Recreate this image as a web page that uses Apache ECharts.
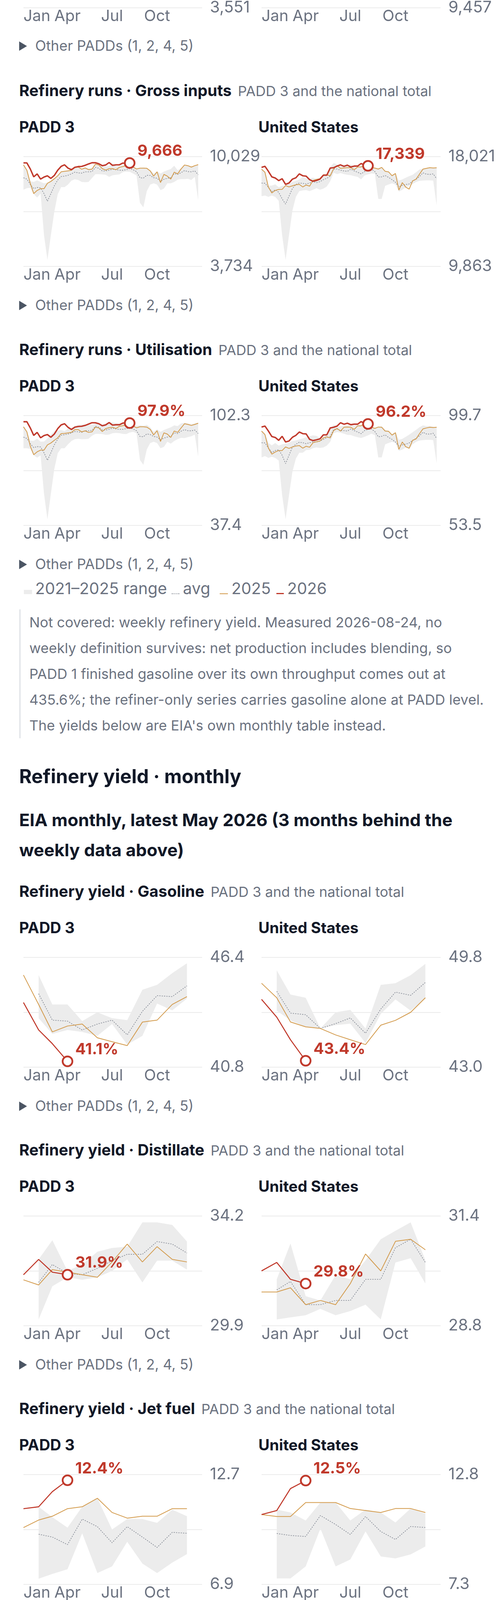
<!DOCTYPE html>
<html>
<head>
<meta charset="utf-8">
<title>Refinery runs and yields</title>
<script src="https://cdn.jsdelivr.net/npm/echarts@6/dist/echarts.min.js"></script>
<style>
body { margin: 0; background: #fff; font-family: Inter, "Noto Sans", sans-serif; }
#page { position: relative; width: 1279px; height: 6941px; overflow: hidden; }
.abs { position: absolute; white-space: nowrap; }
.hd { left: 49px; height: 60px; line-height: 60px; font-size: 40px; font-weight: 700; color: #111827; }
.hd .sub { font-size: 36px; font-weight: 400; color: #6b7280; margin-left: 6px; }
.pl { height: 60px; line-height: 60px; font-size: 39px; font-weight: 700; color: #111827; }
.other { left: 49px; height: 60px; line-height: 60px; font-size: 36.5px; color: #6b7280; }
.other i { display: inline-block; width: 0; height: 0; border-left: 20px solid #4b5563; border-top: 12px solid transparent; border-bottom: 12px solid transparent; vertical-align: middle; margin-right: 21px; margin-top: -4px; }
.legend { left: 61px; height: 60px; line-height: 60px; font-size: 41px; color: #6b7280; }
.legend .sw { display: inline-block; width: 21px; height: 11px; background: #ececec; margin-right: 8px; }
.legend .ln { display: inline-block; width: 21px; height: 0; margin: 0 9px 0 12px; }
.note { left: 49px; top: 1560px; border-left: 4px solid #e5e7eb; padding-left: 22px; font-size: 36px; line-height: 66px; color: #6b7280; }
.h2 { left: 49px; font-size: 49px; font-weight: 700; color: #111827; height: 70px; line-height: 70px; }
.lead { left: 49px; font-size: 44.5px; font-weight: 700; color: #111827; line-height: 77px; }
.para { left: 48px; top: 6259px; font-size: 36px; line-height: 62px; color: #5b6270; }
.para b { color: #474e5b; }
.chart { left: 0; width: 1279px; height: 400px; }
</style>
</head>
<body>
<div id="page"></div>
<script>
// x positions (day of year) and axis ticks
var weekDays = [0,7,14,21,28,35,42,49,56,63,70,77,84,91,98,105,112,119,126,133,140,147,154,161,168,175,182,189,196,203,210,217,224,231,238,245,252,259,266,273,280,287,294,301,308,315,322,329,336,343,350,357];
var monthDays = [0,31,59,90,120,151,181,212,243,273,304,334];
var tickDays = [0,90,181,273];
var tickNames = ['Jan','Apr','Jul','Oct'];

// ---- weekly: gross inputs, kb/d ----
var grossP3Hi = [9580,9280,8610,8580,8670,8580,8500,8540,8640,8790,8950,9170,9210,9250,9280,9430,9470,9340,9410,9360,9360,9620,9580,9460,9470,9490,9660,9490,9490,9550,9580,9550,9470,9360,9380,9400,9380,9250,9060,9170,9060,9170,9250,9320,9510,9250,9360,9560,9530,9460,9510,9580];
var grossP3Lo = [8130,8220,8240,7880,7680,7910,5520,4110,5520,6860,7870,8280,8280,8430,8650,8730,8690,8580,8560,8580,8800,9020,9020,9010,8990,8870,8960,8990,9010,9140,9170,9160,9060,8950,7380,7120,8050,8430,8500,8430,8110,8200,8500,8500,8580,8710,8740,8740,8760,8690,8870,7530];
var grossP3Avg = [8820,8740,8430,8200,8260,8240,7910,7470,7910,8350,8690,8890,8910,8960,9040,9140,9100,9080,9160,9160,9170,9410,9360,9210,9210,9250,9310,9280,9250,9250,9280,9340,9280,9170,8820,8800,8960,8950,8820,8790,8610,8730,8790,8820,9060,9010,9110,9230,9170,9160,9210,8990];
var grossP3Y25 = [9560,9250,8500,7910,8090,8190,8190,8500,8610,8760,8930,9160,9190,9210,9250,9410,9430,9310,9380,9280,9310,9600,9550,9340,9260,9340,9340,9280,9410,9460,9510,9530,9430,9320,9370,9370,9360,9210,8910,9160,8540,9010,8910,8740,9140,9040,9320,9550,9510,9430,9510,9570];
var grossP3Y26 = [9670,9670,9320,8870,9040,8740,8860,8930,8780,8950,9250,9470,9560,9370,9280,9420,9460,9470,9530,9610,9680,9680,9620,9510,9550,9690,9530,9560,9560,9660,9640,9666];

var grossUSHi = [17100,16890,15850,15870,15960,15750,15850,15870,15990,16140,16220,16330,16520,16410,16410,16450,16380,16410,16670,16740,17250,17540,17440,17320,17440,17350,17440,17300,17300,17350,17490,17390,17300,17200,17150,17250,16960,16910,16640,16770,16240,16330,16450,16570,16670,16860,17060,17120,17180,17220,17200,17220];
var grossUSLo = [15080,15130,15030,15130,15030,14740,12180,10350,12180,14020,15030,15460,15510,15540,15460,15560,15680,15560,15640,15800,16190,16820,16720,16800,16720,16670,16640,16570,16520,16330,16620,16700,16770,16740,14880,14880,15850,15950,16040,15950,15420,15560,15750,15850,15990,16140,16220,16240,16260,16260,16240,14400];
var grossUSAvg = [16060,16040,15750,15420,15560,15370,14880,14500,15080,15660,15950,16060,16040,15990,16060,16160,16090,16160,16310,16410,16570,17100,17100,17010,16960,16930,17090,16960,16860,16740,16910,17060,17100,16910,16510,16520,16620,16480,16310,16120,15770,15900,15950,15990,16220,16330,16540,16820,16720,16700,16740,16380];
var grossUSY25 = [17090,16860,15750,15320,15510,15580,15590,15870,15770,15850,15930,15960,15770,15910,15830,16250,16330,16380,16670,16670,16600,17120,17350,17150,17180,17200,17200,17050,17250,17250,17390,17320,17200,17170,17100,17220,16930,16890,16600,16770,15540,16090,15750,15610,16220,16350,16720,17090,17150,17200,17180,17190];
var grossUSY26 = [17220,17300,16930,16520,16430,16240,16380,15960,16060,16350,16450,16740,16600,16570,16310,16190,16250,16350,16640,16640,17170,17200,17320,17410,17300,17390,17250,17320,17320,17510,17390,17339];

// ---- weekly: utilisation, % ----
var utilP3Hi = [96.0,93.1,87.5,87.4,88.6,86.9,87.0,88.8,91.1,93.1,93.4,93.8,93.1,94.6,95.0,96.1,96.8,97.1,96.9,96.8,96.9,97.7,97.7,97.1,97.7,98.1,98.3,97.8,97.5,97.5,98.1,97.7,96.9,96.3,96.5,96.3,96.9,95.4,92.7,94.2,92.7,93.8,94.6,95.4,96.5,96.1,97.7,98.1,97.7,97.3,97.7,98.1];
var utilP3Lo = [83.0,83.0,82.6,78.8,77.5,78.8,56.1,41.0,56.1,70.7,80.0,83.0,83.0,85.3,87.3,88.4,88.6,88.3,88.4,88.6,90.4,91.5,91.5,91.4,90.9,91.1,91.9,92.1,91.9,91.5,91.4,92.3,92.7,91.9,76.1,73.2,82.3,86.1,86.9,86.1,83.0,83.8,86.9,85.7,87.3,88.4,89.2,89.0,89.6,90.1,91.1,78.0];
var utilP3Avg = [89.6,88.8,85.7,83.4,84.0,83.8,80.3,75.9,80.3,85.0,88.4,90.7,91.0,91.4,92.1,92.9,92.7,92.4,93.4,93.4,93.6,96.0,95.4,93.8,93.8,94.2,94.9,94.4,94.2,94.2,94.6,95.0,94.4,93.4,90.0,89.8,91.5,91.1,90.0,89.6,88.0,89.0,89.6,90.0,92.1,91.7,93.1,94.0,93.4,93.3,93.8,91.7];
var utilP3Y25 = [95.7,92.7,84.2,79.2,80.9,81.9,81.9,85.0,86.1,87.7,89.2,91.7,91.8,92.1,92.4,94.0,94.0,92.7,93.3,92.4,92.7,95.5,95.0,92.9,94.6,95.2,95.4,94.7,96.0,96.3,96.9,96.9,96.1,95.1,95.7,95.7,95.5,94.2,90.9,93.4,87.0,92.1,91.4,89.4,93.2,92.4,95.0,97.5,97.1,96.5,97.1,97.8];
var utilP3Y26 = [98.7,98.7,95.0,90.6,92.4,89.2,90.5,91.1,89.5,91.4,94.6,96.8,97.5,95.4,94.1,95.5,95.9,96.0,96.5,97.3,98.1,98.1,97.5,96.3,96.8,98.2,96.7,96.9,96.9,97.9,98.0,97.9];

var utilUSHi = [93.4,92.1,88.2,87.2,88.2,87.1,87.6,87.9,88.3,89.0,89.3,89.7,90.1,90.6,91.0,91.4,91.2,90.3,91.0,91.9,94.1,95.9,95.0,95.2,95.4,95.6,95.9,95.4,95.9,95.7,96.4,95.9,95.2,94.8,94.9,95.2,93.7,93.4,91.9,92.7,89.5,89.9,90.8,91.7,92.7,93.7,94.8,95.6,95.3,95.3,95.0,94.8];
var utilUSLo = [82.1,82.7,81.9,82.4,81.9,80.8,66.2,56.1,66.2,76.1,81.6,84.1,84.1,85.2,85.3,86.0,86.3,86.1,86.3,87.1,88.7,92.3,92.8,92.5,92.1,91.6,91.5,91.0,90.6,90.3,90.8,91.4,92.1,91.5,82.1,82.1,87.6,88.2,88.7,88.2,84.9,85.4,86.3,85.6,87.6,88.7,89.2,89.4,89.5,89.5,89.4,79.7];
var utilUSAvg = [88.3,88.2,86.1,84.2,85.0,85.3,83.0,79.5,83.0,86.5,87.6,88.5,88.3,87.9,88.3,88.7,88.6,89.0,89.7,90.4,90.9,93.9,94.1,93.4,93.4,93.2,94.1,93.4,92.8,92.1,93.4,93.9,94.1,93.0,90.8,91.0,91.6,90.5,89.7,88.6,86.8,87.4,87.7,88.2,89.3,90.1,91.2,92.7,92.0,91.9,92.3,90.1];
var utilUSY25 = [93.2,91.7,86.0,83.5,84.4,85.0,85.0,86.5,85.9,86.5,86.9,87.1,86.0,86.8,86.4,88.3,88.7,89.0,90.3,90.8,90.3,93.4,94.3,93.2,94.8,94.9,94.8,93.9,95.4,95.4,96.4,95.9,94.8,94.3,94.9,94.8,93.2,93.1,91.5,92.5,85.5,88.6,86.6,86.0,89.3,89.9,92.1,94.1,94.5,94.8,94.7,94.8];
var utilUSY26 = [94.9,95.3,93.2,90.9,90.5,89.3,91.0,88.6,89.0,90.6,91.4,92.8,92.1,92.0,89.7,89.2,89.5,89.9,91.6,91.6,94.5,94.8,95.3,96.7,96.1,96.5,95.9,96.1,96.1,97.2,96.4,96.2];

// ---- monthly yields, %; range/avg run Feb-Dec ----
var gasP3Hi = [45.5,44.0,44.0,43.15,43.6,43.3,43.2,44.75,45.0,45.6,46.1];
var gasP3Lo = [43.3,42.5,42.7,42.6,42.4,43.0,41.95,42.4,44.05,43.7,44.3];
var gasP3Avg = [44.55,43.2,43.15,42.7,43.0,43.2,42.45,43.65,44.45,44.4,44.95];
var gasP3Y25 = [45.5,44.0,42.6,42.9,43.0,42.3,42.1,41.9,43.1,43.2,44.0,44.4];
var gasP3Y26 = [44.1,42.7,42.0,41.1];
var gasUSHi = [49.0,47.5,47.3,45.4,46.4,46.55,45.4,48.1,48.2,48.7,49.4];
var gasUSLo = [46.5,45.9,45.5,45.4,45.6,45.7,44.5,46.3,47.2,46.5,47.25];
var gasUSAvg = [47.7,46.35,46.25,45.4,45.7,46.05,45.1,46.6,47.65,47.45,48.25];
var gasUSY25 = [48.2,47.3,45.8,45.5,45.4,45.0,44.7,44.4,45.6,45.9,46.4,47.3];
var gasUSY26 = [47.2,46.1,44.7,43.4];

var distP3Hi = [32.5,33.25,32.05,32.3,32.8,32.95,33.0,33.95,33.95,33.85,33.2];
var distP3Lo = [30.15,31.45,31.8,31.7,31.8,32.05,32.5,31.6,32.45,32.45,32.1];
var distP3Avg = [31.6,32.3,31.95,31.9,32.15,32.45,32.7,32.7,33.2,33.1,32.75];
var distP3Y25 = [31.7,31.5,32.1,32.0,31.9,31.8,32.4,33.1,32.4,33.0,32.5,32.4];
var distP3Y26 = [31.9,32.5,32.0,31.9];
var distUSHi = [29.9,30.75,29.5,29.4,30.0,29.9,30.35,30.85,31.05,31.25,30.35];
var distUSLo = [28.95,29.0,29.05,29.2,29.05,29.15,29.3,28.95,30.3,30.4,29.8];
var distUSAvg = [29.65,29.85,29.3,29.3,29.4,29.4,29.9,29.9,30.65,30.85,30.3];
var distUSY25 = [29.6,29.6,29.7,29.3,29.4,29.3,29.8,30.5,30.1,30.8,30.85,30.6];
var distUSY26 = [30.1,30.3,29.9,29.8];

var jetP3Hi = [11.0,10.45,9.9,11.0,11.45,9.8,10.35,10.35,10.15,10.85,10.5];
var jetP3Lo = [7.2,7.45,7.7,9.6,7.5,7.85,9.15,8.0,7.5,8.05,8.5];
var jetP3Avg = [9.55,9.4,9.0,10.35,9.95,9.1,9.95,9.4,8.85,9.65,9.6];
var jetP3Y25 = [9.9,10.3,10.5,10.9,11.0,11.45,10.7,10.4,10.5,10.5,10.9,10.9];
var jetP3Y26 = [10.9,11.0,11.8,12.4];
var jetUSHi = [11.05,10.9,10.5,11.4,11.4,10.5,11.05,10.9,10.4,11.1,10.85];
var jetUSLo = [7.6,7.6,8.2,10.1,8.2,8.55,9.95,8.7,8.6,8.8,9.2];
var jetUSAvg = [9.85,9.75,9.7,10.75,10.3,9.8,10.7,9.95,9.55,10.2,10.15];
var jetUSY25 = [10.8,10.7,10.7,11.4,11.4,11.4,11.1,11.0,10.9,11.1,11.1,10.9];
var jetUSY26 = [10.8,11.0,12.1,12.5];

var resP3Hi = [2.9,2.4,1.8,1.8,1.6,1.2,1.6,1.4,1.4,1.6,1.5];
var resP3Lo = [0.8,1.0,0.4,1.0,0.4,0.7,1.25,0.06,0.76,0.69,0.58];
var resP3Avg = [1.64,1.57,0.96,1.43,0.94,0.89,1.39,0.97,1.03,1.17,1.18];
var resP3Y25 = [2.0,2.1,1.7,1.2,1.2,1.3,1.6,1.5,1.6,1.9,1.55,1.2];
var resP3Y26 = [1.3,1.5,1.3,1.5];
var resUSHi = [2.7,2.5,1.8,1.87,1.71,1.54,1.9,1.81,1.69,1.9,1.69];
var resUSLo = [1.5,1.5,1.13,1.61,1.13,1.36,1.48,1.11,1.36,1.3,1.29];
var resUSAvg = [1.92,1.94,1.47,1.76,1.52,1.47,1.74,1.55,1.59,1.61,1.59];
var resUSY25 = [2.0,2.1,2.0,1.6,1.7,1.8,1.9,1.9,2.0,2.1,1.9,1.8];
var resUSY26 = [1.8,1.9,2.1,2.0];

var cokeP3Hi = [5.1,5.0,5.2,5.3,5.3,5.2,5.3,5.5,5.1,5.3,5.2];
var cokeP3Lo = [4.5,4.7,4.8,4.6,4.8,4.9,4.7,4.9,5.0,4.4,4.8];
var cokeP3Avg = [5.0,4.88,5.07,4.99,5.11,5.14,5.06,5.27,5.04,5.02,5.05];
var cokeP3Y25 = [5.1,5.2,4.9,4.6,4.6,4.7,4.5,4.7,4.9,4.4,4.4,4.6];
var cokeP3Y26 = [5.0,4.9,4.8,4.9];
var cokeUSHi = [4.96,4.88,4.96,4.79,4.96,4.96,4.88,5.05,4.96,4.96,5.05];
var cokeUSLo = [4.52,4.7,4.74,4.61,4.6,4.7,4.52,4.7,4.7,4.35,4.79];
var cokeUSAvg = [4.81,4.83,4.88,4.7,4.86,4.9,4.76,4.95,4.9,4.78,4.9];
var cokeUSY25 = [4.9,4.9,4.8,4.6,4.6,4.6,4.5,4.5,4.6,4.35,4.35,4.4];
var cokeUSY26 = [4.7,4.7,4.5,4.7];

var gainP3Hi = [-5.6,-5.69,-5.7,-5.79,-5.8,-5.8,-5.78,-5.7,-6.18,-5.7,-6.01];
var gainP3Lo = [-6.71,-6.2,-6.71,-6.31,-7.11,-7.2,-6.71,-7.1,-7.2,-6.71,-6.89];
var gainP3Avg = [-5.98,-5.93,-6.2,-6.13,-6.3,-6.5,-6.39,-6.5,-6.68,-6.22,-6.4];
var gainP3Y25 = [-6.1,-5.9,-5.8,-5.6,-6.3,-6.1,-6.1,-6.4,-6.2,-5.8,-5.7,-5.9];
var gainP3Y26 = [-6.0,-6.3,-5.6,-5.9];
var gainUSHi = [-5.68,-5.68,-6.1,-5.59,-5.68,-5.8,-5.8,-6.0,-6.31,-5.48,-6.01];
var gainUSLo = [-6.31,-6.31,-6.51,-6.31,-6.51,-6.51,-6.31,-6.62,-6.72,-6.51,-6.72];
var gainUSAvg = [-6.1,-5.92,-6.27,-5.87,-6.0,-6.13,-6.03,-6.27,-6.55,-6.13,-6.34];
var gainUSY25 = [-6.1,-6.1,-5.8,-5.8,-6.3,-5.9,-5.9,-6.0,-5.9,-5.6,-5.5,-5.8];
var gainUSY26 = [-5.8,-6.1,-5.8,-5.6];

// y-axis extents (the two labels shown per panel)
var topAxisMin = [3551, 9457];

var RED = '#c0392b', ORANGE = '#d39b4d', BAND = '#ececec', AVG = '#8c919b', GRID = '#ebebeb', AXIS = '#6b7280';
var FONT = 'Inter, "Noto Sans", sans-serif';

function fmtK(v) { return Math.round(v).toLocaleString('en-US'); }
function fmt1(v) { return (Math.round(v * 10) / 10).toFixed(1); }
function fmtPct(v) { return fmt1(v) + '%'; }
function pairs(xs, ys) { return ys.map(function (v, i) { return [xs[i], v]; }); }

var page = document.getElementById('page');
function addDiv(cls, top, html, extra) {
  var d = document.createElement('div');
  d.className = 'abs ' + cls;
  d.style.top = top + 'px';
  if (extra) for (var k in extra) d.style[k] = extra[k];
  d.innerHTML = html;
  page.appendChild(d);
  return d;
}

function axesFor(g, mn, mx, fmt) {
  return {
    x: { type: 'value', gridIndex: g, min: 0, max: 365,
      axisLine: { show: false }, axisTick: { show: false }, splitLine: { show: false },
      axisLabel: { customValues: tickDays, formatter: function (v) { return tickNames[tickDays.indexOf(v)]; },
        color: AXIS, fontSize: 40, fontFamily: FONT, margin: 2, alignMinLabel: 'left' } },
    y: { type: 'value', gridIndex: g, position: 'right', min: mn, max: mx,
      axisLine: { show: false },
      axisTick: { show: false, customValues: [mn, (mn + mx) / 2, mx] },
      splitLine: { show: true, lineStyle: { color: GRID, width: 2 } },
      axisLabel: { customValues: [mn, mx], formatter: fmt, color: AXIS, fontSize: 41, fontFamily: FONT, margin: 20 } }
  };
}

function bandSeries(g, xs, lo, hi) {
  return { type: 'custom', xAxisIndex: g, yAxisIndex: g, silent: true, z: 1,
    data: [[xs[0], lo[0]]],
    renderItem: function (params, api) {
      var pts = [];
      for (var i = 0; i < xs.length; i++) pts.push(api.coord([xs[i], hi[i]]));
      for (var j = xs.length - 1; j >= 0; j--) pts.push(api.coord([xs[j], lo[j]]));
      return { type: 'polygon', shape: { points: pts }, style: { fill: BAND } };
    } };
}

function panelSeries(g, xs, bandX, d, valFmt, redW) {
  var last = d.y26.length - 1;
  return [
    bandSeries(g, bandX, d.lo, d.hi),
    { type: 'line', xAxisIndex: g, yAxisIndex: g, data: pairs(bandX, d.avg), showSymbol: false, silent: true, z: 2,
      lineStyle: { color: AVG, width: 1.8, type: [3, 3] } },
    { type: 'line', xAxisIndex: g, yAxisIndex: g, data: pairs(xs, d.y25), showSymbol: false, silent: true, z: 3,
      lineStyle: { color: ORANGE, width: 2 } },
    { type: 'line', xAxisIndex: g, yAxisIndex: g, data: pairs(xs, d.y26), showSymbol: false, silent: true, z: 4,
      lineStyle: { color: RED, width: redW } },
    { type: 'scatter', xAxisIndex: g, yAxisIndex: g, data: [[xs[last], d.y26[last]]], z: 5, silent: true,
      symbolSize: 25, itemStyle: { color: '#fff', borderColor: RED, borderWidth: 4.5, opacity: 1 },
      label: { show: true, position: 'right', distance: 5, offset: [0, -30],
        formatter: function (p) { return valFmt(p.value[1]); },
        color: RED, fontSize: 40, fontWeight: 'bold', fontFamily: FONT } }
  ];
}

var grids = [
  { left: 60, top: 59, width: 457, height: 281 },
  { left: 669, top: 59, width: 458, height: 281 }
];

function makeChart(top, cfg) {
  var el = addDiv('chart', top, '');
  var chart = echarts.init(el, null, { renderer: 'canvas' });
  var a0 = axesFor(0, cfg.p3.min, cfg.p3.max, cfg.axisFmt);
  var a1 = axesFor(1, cfg.us.min, cfg.us.max, cfg.axisFmt);
  var series = [];
  if (cfg.p3.y26) {
    series = series.concat(panelSeries(0, cfg.x, cfg.bandX, cfg.p3, cfg.valFmt, cfg.redW));
    series = series.concat(panelSeries(1, cfg.x, cfg.bandX, cfg.us, cfg.valFmt, cfg.redW));
  }
  chart.setOption({
    animation: false,
    grid: grids,
    xAxis: [a0.x, a1.x],
    yAxis: [a0.y, a1.y],
    series: series
  });
}

function block(H, title, cfg) {
  addDiv('hd', H - 30, title + '<span class="sub"> PADD 3 and the national total</span>');
  addDiv('pl', H + 63, 'PADD 3', { left: '49px' });
  addDiv('pl', H + 63, 'United States', { left: '661px' });
  makeChart(H + 110, cfg);
  addDiv('other', H + 519, '<i></i>Other PADDs (1, 2, 4, 5)');
}

function legend(top) {
  addDiv('legend', top,
    '<span class="sw"></span>2021\u20132025 range' +
    '<span class="ln" style="border-top:2px dotted ' + AVG + ';width:20px"></span>avg' +
    '<span class="ln" style="border-top:2px solid ' + ORANGE + ';margin-left:24px"></span>2025' +
    '<span class="ln" style="border-top:3px solid ' + RED + ';width:19px;margin-left:14px"></span>2026');
}

function wk(p3, us, fmtA, fmtV) {
  return { x: weekDays, bandX: weekDays, p3: p3, us: us, axisFmt: fmtA, valFmt: fmtV, redW: 3.6 };
}
function mo(p3, us) {
  return { x: monthDays, bandX: monthDays.slice(1), p3: p3, us: us, axisFmt: fmt1, valFmt: fmtPct, redW: 2.6 };
}
function set(min, max, lo, hi, avg, y25, y26) { return { min: min, max: max, lo: lo, hi: hi, avg: avg, y25: y25, y26: y26 }; }

// tail of the previous section (only its bottom axis is in view)
makeChart(-320, { p3: { min: topAxisMin[0], max: 9900 }, us: { min: topAxisMin[1], max: 17800 }, axisFmt: fmtK });
addDiv('other', 87, '<i></i>Other PADDs (1, 2, 4, 5)');

block(232, 'Refinery runs \u00b7 Gross inputs', wk(
  set(3734, 10029, grossP3Lo, grossP3Hi, grossP3Avg, grossP3Y25, grossP3Y26),
  set(9863, 18021, grossUSLo, grossUSHi, grossUSAvg, grossUSY25, grossUSY26), fmtK, fmtK));

block(895, 'Refinery runs \u00b7 Utilisation', wk(
  set(37.4, 102.3, utilP3Lo, utilP3Hi, utilP3Avg, utilP3Y25, utilP3Y26),
  set(53.5, 99.7, utilUSLo, utilUSHi, utilUSAvg, utilUSY25, utilUSY26), fmt1, fmtPct));
legend(1476);

addDiv('note', 1560,
  'Not covered: weekly refinery yield. Measured 2026-08-24, no<br>' +
  'weekly definition survives: net production includes blending, so<br>' +
  'PADD 1 finished gasoline over its own throughput comes out at<br>' +
  '435.6%; the refiner-only series carries gasoline alone at PADD level.<br>' +
  'The yields below are EIA\'s own monthly table instead.');

addDiv('h2', 1953, 'Refinery yield \u00b7 monthly');
addDiv('lead', 2061, 'EIA monthly, latest May 2026 (3 months behind the<br>weekly data above)');

block(2282, 'Refinery yield \u00b7 Gasoline', mo(
  set(40.8, 46.4, gasP3Lo, gasP3Hi, gasP3Avg, gasP3Y25, gasP3Y26),
  set(43.0, 49.8, gasUSLo, gasUSHi, gasUSAvg, gasUSY25, gasUSY26)));
block(2944, 'Refinery yield \u00b7 Distillate', mo(
  set(29.9, 34.2, distP3Lo, distP3Hi, distP3Avg, distP3Y25, distP3Y26),
  set(28.8, 31.4, distUSLo, distUSHi, distUSAvg, distUSY25, distUSY26)));
block(3606, 'Refinery yield \u00b7 Jet fuel', mo(
  set(6.9, 12.7, jetP3Lo, jetP3Hi, jetP3Avg, jetP3Y25, jetP3Y26),
  set(7.3, 12.8, jetUSLo, jetUSHi, jetUSAvg, jetUSY25, jetUSY26)));
block(4268, 'Refinery yield \u00b7 Residual fuel oil', mo(
  set(0.0, 3.1, resP3Lo, resP3Hi, resP3Avg, resP3Y25, resP3Y26),
  set(1.1, 2.8, resUSLo, resUSHi, resUSAvg, resUSY25, resUSY26)));
block(4930, 'Refinery yield \u00b7 Petroleum coke', mo(
  set(4.3, 5.6, cokeP3Lo, cokeP3Hi, cokeP3Avg, cokeP3Y25, cokeP3Y26),
  set(4.3, 5.1, cokeUSLo, cokeUSHi, cokeUSAvg, cokeUSY25, cokeUSY26)));
block(5592, 'Refinery yield \u00b7 Processing gain', mo(
  set(-7.3, -5.5, gainP3Lo, gainP3Hi, gainP3Avg, gainP3Y25, gainP3Y26),
  set(-6.8, -5.4, gainUSLo, gainUSHi, gainUSAvg, gainUSY25, gainUSY26)));
legend(6177);

addDiv('para', 6259,
  'Flows are <b>kb/d</b>, out of the same weekly WPSR release as the stocks<br>' +
  'above. Crude imports are <b>ex-SPR</b> on both the national and the PADD<br>' +
  'lines, so the five PADDs add back to the national figure; utilisation is a<br>' +
  'ratio and does not. A zero is a published value \u2014 the inland PADDs<br>' +
  'genuinely import no gasoline \u2014 not a missing week. Gasoline here is<br>' +
  '<b>finished motor gasoline</b>, so a PADD line counts blending as well as<br>' +
  'refining: PADD 1 out-produces PADD 3 because Gulf Coast refineries<br>' +
  'ship blendstock north. <b>EIA does not publish PADD-level exports</b>:<br>' +
  'those 30 cells are absent because the series do not exist, and nothing<br>' +
  'here is back-solved from output or stock change.');
</script>
</body>
</html>
